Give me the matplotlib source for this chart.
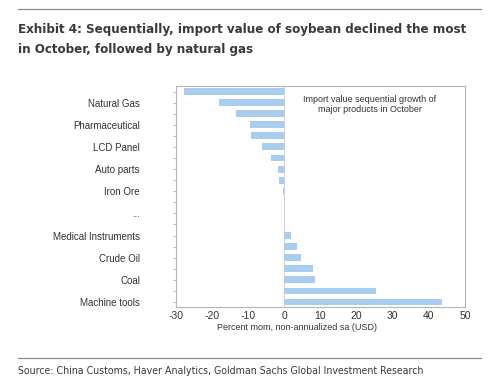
import numpy as np
import matplotlib
matplotlib.use("Agg")
import matplotlib.pyplot as plt

# data (top to bottom)
labels = ["", "Natural Gas", "", "Pharmaceutical", "", "LCD Panel", "", "Auto parts",
          "", "Iron Ore", "", "...", "", "Medical Instruments", "", "Crude Oil",
          "", "Coal", "", "Machine tools"]
values = [-27.8, -18.2, -13.5, -9.5, -9.2, -6.3, -3.8, -1.9, -1.5, -0.4,
          np.nan, np.nan, np.nan, 1.8, 3.6, 4.6, 7.8, 8.4, 25.5, 43.7]
xticks = [-30, -20, -10, 0, 10, 20, 30, 40, 50]

plt.rcParams["font.family"] = ["Liberation Sans", "DejaVu Sans"]

fig = plt.figure(figsize=(5, 3.85), dpi=100)
fig.patch.set_facecolor("white")
renderer = fig.canvas.get_renderer()


def fit_text(t, width_px):
    # shrink/grow a text so it spans roughly width_px pixels
    w = t.get_window_extent(renderer).width
    t.set_fontsize(t.get_fontsize() * width_px / w)


# header / footer
fig.add_artist(plt.Line2D([0.036, 0.962], [1 - 9 / 385, 1 - 9 / 385], color="#8a8a8a", lw=0.9))
t1 = fig.text(0.036, 1 - 29 / 385, "Exhibit 4: Sequentially, import value of soybean declined the most",
              family="DejaVu Sans", stretch="condensed", weight="bold", fontsize=11,
              color="#3a3a3a", va="center")
fit_text(t1, 450)
t2 = fig.text(0.036, 1 - 50 / 385, "in October, followed by natural gas",
              family="DejaVu Sans", stretch="condensed", weight="bold",
              fontsize=t1.get_fontsize(), color="#3a3a3a", va="center")
fig.add_artist(plt.Line2D([0.036, 0.962], [1 - 358 / 385, 1 - 358 / 385], color="#8a8a8a", lw=0.9))
t3 = fig.text(0.036, 1 - 371 / 385,
              "Source: China Customs, Haver Analytics, Goldman Sachs Global Investment Research",
              family="DejaVu Sans", stretch="condensed", fontsize=8, color="#3a3a3a", va="center")
fit_text(t3, 407)

ax = fig.add_axes([176 / 500, 1 - 307 / 385, (465 - 176) / 500, (307 - 86) / 385])
y = np.arange(len(values))
ax.barh(y, values, height=0.62, color="#a9cdee")
ax.axvline(0, color="#c8c8c8", lw=0.6, zorder=0)

ax.set_ylim(len(values) - 0.55, -0.5)
ax.set_xlim(-30, 50)
ax.set_yticks(y)
ax.set_yticklabels(labels, fontsize=7, color="#333333")
ax.set_xticks(xticks)
ax.set_xticklabels([str(t) for t in xticks], fontsize=7.5, color="#333333")
ax.tick_params(axis="y", length=2, color="#bbbbbb", pad=24)
ax.tick_params(axis="x", length=0, pad=3)
for s in ax.spines.values():
    s.set_color("#b5b5b5")
    s.set_linewidth(0.8)

ax.text(0.67, 0.915, "Import value sequential growth of\nmajor products in October",
        transform=ax.transAxes, ha="center", va="center", fontsize=6.5,
        color="#333333", linespacing=1.2)

fig.text(297 / 500, 1 - 328 / 385, "Percent mom, non-annualized sa (USD)",
         ha="center", va="center", fontsize=6.5, color="#333333")

fig.savefig("out.png", dpi=100, facecolor="white")
